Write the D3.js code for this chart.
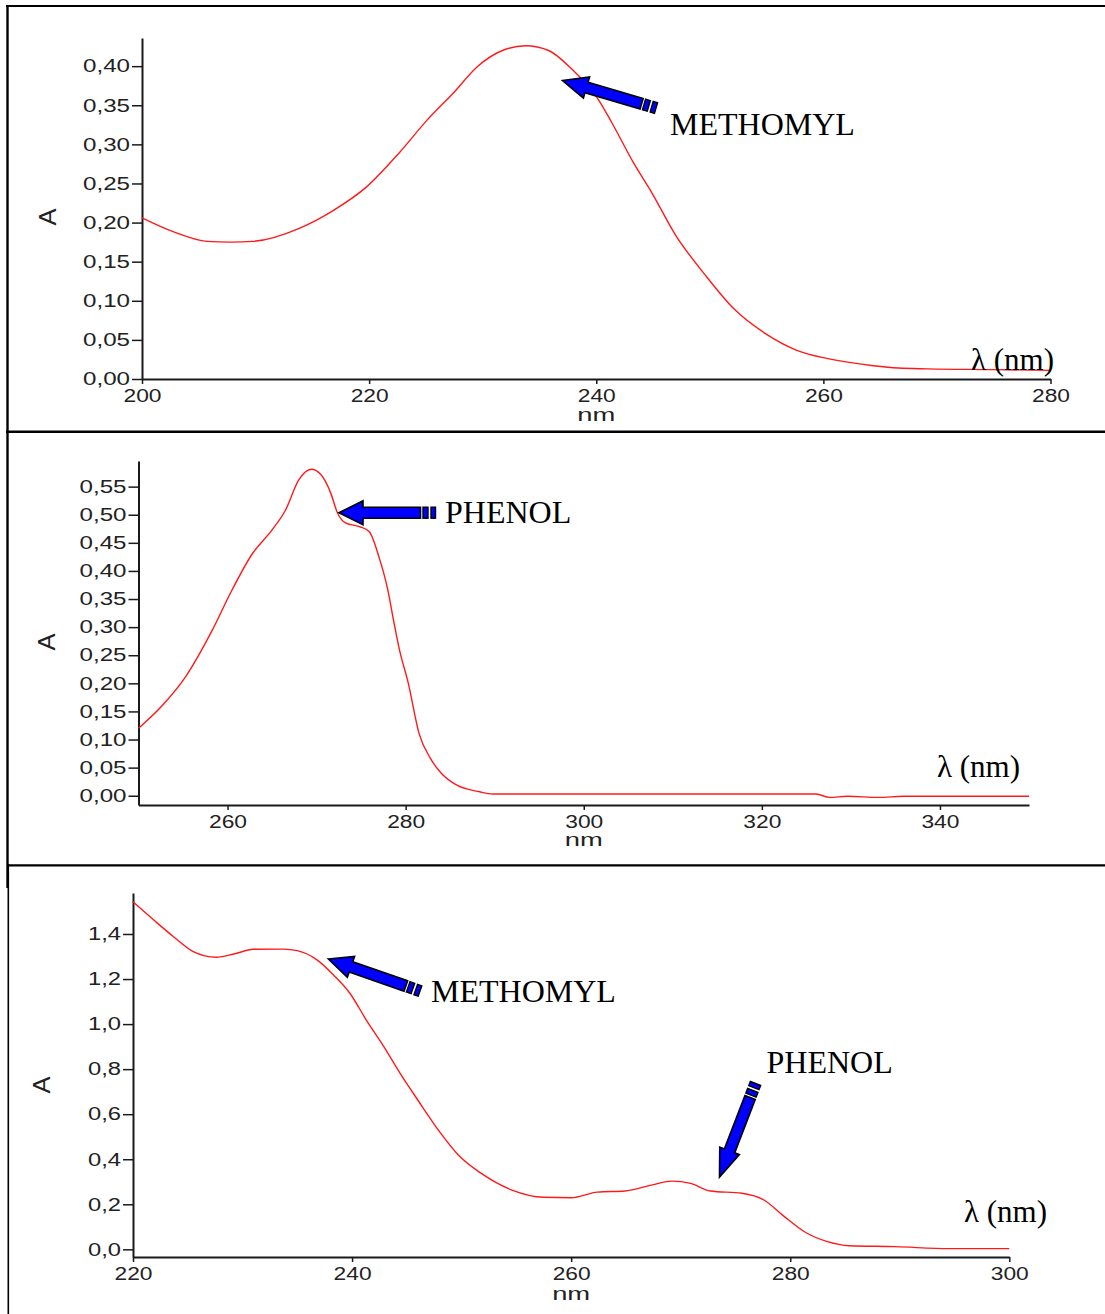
<!DOCTYPE html>
<html>
<head>
<meta charset="utf-8">
<script src="https://cdn.jsdelivr.net/npm/d3@7"></script>
<style>
  html, body { margin: 0; padding: 0; background: #ffffff; }
  svg { display: block; }
</style>
</head>
<body>
<svg id="chart" width="1105" height="1314"></svg>
<script>
// ---------------- DATA ----------------
// Panel 1: Methomyl spectrum
const methomylWavelength = [200, 202.8, 205.7, 207.8, 209.8, 213.9, 216.9, 219.8, 222.7, 225.1, 227.5, 229.5, 231.9, 233.8, 235.8, 237.8, 240.2, 241.4, 243.3, 244.9, 246.9, 249.7, 252.1, 254.9, 257.6, 260.4, 264.4, 266.6, 269.2, 275, 280];
const methomylAbs        = [0.206, 0.188, 0.176, 0.175, 0.176, 0.193, 0.216, 0.246, 0.290, 0.331, 0.367, 0.399, 0.421, 0.426, 0.420, 0.397, 0.357, 0.327, 0.276, 0.238, 0.186, 0.131, 0.090, 0.058, 0.037, 0.026, 0.017, 0.014, 0.013, 0.012, 0.011];

// Panel 2: Phenol spectrum
const phenolWavelength = [250, 252.7, 255.3, 258.3, 260.5, 262.8, 265.0, 266.5, 268.0, 269.4, 270.5, 271.6, 272.3, 273.3, 274.8, 275.9, 277.0, 278.0, 278.7, 279.3, 280.3, 281.5, 282.8, 284.0, 285.5, 288.3, 289.8, 326.1, 327.6, 329.6, 333.1, 335.9, 350];
const phenolAbs        = [0.120, 0.161, 0.212, 0.295, 0.366, 0.431, 0.473, 0.508, 0.562, 0.581, 0.571, 0.538, 0.505, 0.485, 0.479, 0.470, 0.425, 0.366, 0.307, 0.260, 0.200, 0.111, 0.066, 0.040, 0.021, 0.007, 0.003, 0.003, -0.003, -0.001, -0.003, -0.001, -0.001];

// Panel 3: Mixture spectrum
const mixWavelength = [220, 221.9, 223.7, 225.5, 227.6, 229.2, 231.0, 233.7, 235.0, 236.8, 238.3, 239.8, 241.3, 242.9, 244.4, 246.0, 248.1, 249.7, 251.8, 254.6, 257.5, 260.0, 262.4, 264.9, 267.4, 269.2, 270.9, 272.7, 275.6, 277.6, 279.3, 281.3, 283.4, 285.4, 289.6, 294.5, 300];
const mixAbs        = [1.543, 1.462, 1.388, 1.322, 1.297, 1.311, 1.332, 1.333, 1.326, 1.285, 1.218, 1.137, 1.018, 0.900, 0.780, 0.663, 0.515, 0.419, 0.337, 0.263, 0.231, 0.229, 0.254, 0.259, 0.286, 0.303, 0.293, 0.259, 0.249, 0.219, 0.152, 0.078, 0.034, 0.016, 0.012, 0.003, 0.003];

// Ticks
const xTicks1 = [200, 220, 240, 260, 280];
const yTicks1 = [0, 0.05, 0.10, 0.15, 0.20, 0.25, 0.30, 0.35, 0.40];
const yTickLabels1 = ["0,00", "0,05", "0,10", "0,15", "0,20", "0,25", "0,30", "0,35", "0,40"];

const xTicks2 = [260, 280, 300, 320, 340];
const yTicks2 = [0, 0.05, 0.10, 0.15, 0.20, 0.25, 0.30, 0.35, 0.40, 0.45, 0.50, 0.55];
const yTickLabels2 = ["0,00", "0,05", "0,10", "0,15", "0,20", "0,25", "0,30", "0,35", "0,40", "0,45", "0,50", "0,55"];

const xTicks3 = [220, 240, 260, 280, 300];
const yTicks3 = [0, 0.2, 0.4, 0.6, 0.8, 1.0, 1.2, 1.4];
const yTickLabels3 = ["0,0", "0,2", "0,4", "0,6", "0,8", "1,0", "1,2", "1,4"];

const labelMethomyl = "METHOMYL";
const labelPhenol = "PHENOL";
const labelLambda = "λ (nm)";
const labelA = "A";
const labelNm = "nm";

// ---------------- DRAWING ----------------
const svg = d3.select("#chart");
const tickFont = "'Liberation Sans', Arial, sans-serif";
const serifFont = "'Liberation Serif', 'Times New Roman', serif";

// Frames
const frame = svg.append("g").attr("fill", "none").attr("stroke", "#000");
frame.append("line").attr("x1", 6).attr("x2", 1105).attr("y1", 6).attr("y2", 6).attr("stroke-width", 2.2);
frame.append("line").attr("x1", 7.5).attr("x2", 7.5).attr("y1", 5).attr("y2", 888).attr("stroke-width", 2.4);
frame.append("line").attr("x1", 6).attr("x2", 1105).attr("y1", 431.7).attr("y2", 431.7).attr("stroke-width", 2.6);
frame.append("line").attr("x1", 7).attr("x2", 1105).attr("y1", 865.3).attr("y2", 865.3).attr("stroke-width", 2.2);
frame.append("line").attr("x1", 8.3).attr("x2", 8.3).attr("y1", 864).attr("y2", 1314).attr("stroke-width", 1.6);

function panel(cfg) {
  const g = svg.append("g");
  const x = d3.scaleLinear().domain(cfg.xDomain).range(cfg.xRange);
  const y = d3.scaleLinear().domain(cfg.yDomain).range(cfg.yRange);

  // y axis
  const yAxis = d3.axisLeft(y)
    .tickValues(cfg.yTicks)
    .tickFormat((d, i) => cfg.yTickLabels[i])
    .tickSize(10).tickSizeOuter(0).tickPadding(2);
  const ya = g.append("g").attr("transform", `translate(${cfg.xRange[0]},0)`).call(yAxis);
  ya.select(".domain").attr("stroke", "#1a1a1a").attr("stroke-width", 2);
  ya.selectAll(".tick line").attr("stroke", "#1a1a1a").attr("stroke-width", 1.5);
  ya.selectAll(".tick text")
    .attr("font-family", tickFont).attr("font-size", 18).attr("fill", "#222")
    .attr("textLength", cfg.yLabelWidth).attr("lengthAdjust", "spacingAndGlyphs");

  // x axis
  const xAxis = d3.axisBottom(x)
    .tickValues(cfg.xTicks)
    .tickFormat(d3.format("d"))
    .tickSize(5).tickSizeOuter(0).tickPadding(5);
  const xa = g.append("g").attr("transform", `translate(0,${cfg.yRange[0]})`).call(xAxis);
  xa.select(".domain").attr("stroke", "#1a1a1a").attr("stroke-width", 2);
  xa.selectAll(".tick line").attr("stroke", "#1a1a1a").attr("stroke-width", 1.5);
  xa.selectAll(".tick text")
    .attr("font-family", tickFont).attr("font-size", 18).attr("fill", "#222")
    .attr("textLength", 38).attr("lengthAdjust", "spacingAndGlyphs");

  // curve
  const line = d3.line()
    .x((d, i) => x(cfg.wl[i]))
    .y((d, i) => y(cfg.abs[i]))
    .curve(d3.curveMonotoneX);
  g.append("path")
    .datum(cfg.abs)
    .attr("d", line)
    .attr("fill", "none")
    .attr("stroke", "#ff1a1a")
    .attr("stroke-width", 1.4);

  // "A" axis title
  g.append("text")
    .attr("transform", `translate(${cfg.aPos[0]},${cfg.aPos[1]}) rotate(-90)`)
    .attr("text-anchor", "middle").attr("dy", "0.36em")
    .attr("font-family", tickFont).attr("font-size", 24).attr("fill", "#222")
    .attr("textLength", 17).attr("lengthAdjust", "spacingAndGlyphs")
    .text(labelA);

  // "nm" under axis
  g.append("text")
    .attr("x", x(cfg.nmAt)).attr("y", cfg.nmY)
    .attr("text-anchor", "middle")
    .attr("font-family", tickFont).attr("font-size", 18).attr("fill", "#222")
    .attr("textLength", 38).attr("lengthAdjust", "spacingAndGlyphs")
    .text(labelNm);

  // lambda label
  g.append("text")
    .attr("x", cfg.lambdaPos[0]).attr("y", cfg.lambdaPos[1])
    .attr("font-family", serifFont).attr("font-size", 31).attr("fill", "#000")
    .text(labelLambda);

  return g;
}

function arrow(tip, tail, hl, hw, sw) {
  const dx = tail[0] - tip[0], dy = tail[1] - tip[1];
  const L = Math.hypot(dx, dy);
  const ang = Math.atan2(dy, dx) * 180 / Math.PI;
  const g = svg.append("g").attr("transform", `translate(${tip[0]},${tip[1]}) rotate(${ang})`);
  const shaftEnd = L - 15;
  const pts = [[0, 0], [hl, -hw], [hl, -sw], [shaftEnd, -sw], [shaftEnd, sw], [hl, sw], [hl, hw]];
  g.append("polygon")
    .attr("points", pts.map(p => p.join(",")).join(" "))
    .attr("fill", "#0000ff").attr("stroke", "#000").attr("stroke-width", 1.6)
    .attr("stroke-linejoin", "miter");
  g.append("rect").attr("x", L - 12.5).attr("y", -sw).attr("width", 5).attr("height", 2 * sw)
    .attr("fill", "#0000ff").attr("stroke", "#000").attr("stroke-width", 1.4);
  g.append("rect").attr("x", L - 4.5).attr("y", -sw).attr("width", 4.5).attr("height", 2 * sw)
    .attr("fill", "#0000ff").attr("stroke", "#000").attr("stroke-width", 1.4);
}

function label(txt, x, y) {
  svg.append("text").attr("x", x).attr("y", y)
    .attr("font-family", serifFont).attr("font-size", 32).attr("fill", "#000")
    .text(txt);
}

// Panel 1
panel({
  wl: methomylWavelength, abs: methomylAbs,
  xDomain: [200, 280], xRange: [142, 1050.5],
  yDomain: [0, 0.436], yRange: [379, 38],
  xTicks: xTicks1, yTicks: yTicks1, yTickLabels: yTickLabels1, yLabelWidth: 47,
  aPos: [47, 217], nmAt: 240, nmY: 421, lambdaPos: [971, 370]
});
arrow([562.5, 80.5], [656, 108], 25, 11, 5.5);
label(labelMethomyl, 670, 135);

// Panel 2
panel({
  wl: phenolWavelength, abs: phenolAbs,
  xDomain: [250, 350], xRange: [138.5, 1029],
  yDomain: [-0.0165, 0.5956], yRange: [805, 461],
  xTicks: xTicks2, yTicks: yTicks2, yTickLabels: yTickLabels2, yLabelWidth: 47,
  aPos: [46, 642], nmAt: 300, nmY: 846, lambdaPos: [937, 777]
});
arrow([339, 512.7], [435.5, 512.7], 24, 12, 5.5);
label(labelPhenol, 445, 523);

// Panel 3
panel({
  wl: mixWavelength, abs: mixAbs,
  xDomain: [220, 300], xRange: [133, 1009.3],
  yDomain: [-0.034, 1.582], yRange: [1257, 893],
  xTicks: xTicks3, yTicks: yTicks3, yTickLabels: yTickLabels3, yLabelWidth: 33,
  aPos: [41, 1085], nmAt: 260, nmY: 1300, lambdaPos: [964, 1222]
});
arrow([328.3, 959], [420, 991], 24, 11, 5.5);
label(labelMethomyl, 431, 1002);
arrow([719.5, 1177], [755.5, 1083.5], 28, 10.5, 5.5);
label(labelPhenol, 766.5, 1073);
</script>
</body>
</html>
